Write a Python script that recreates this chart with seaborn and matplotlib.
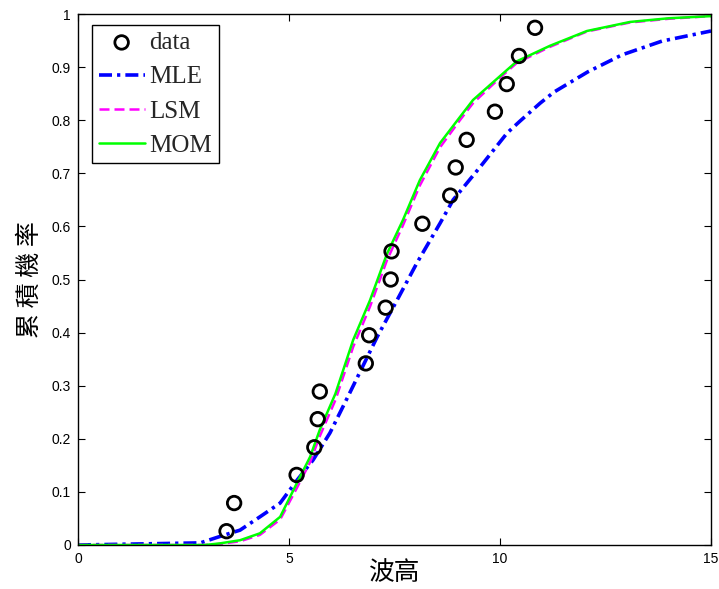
import matplotlib
matplotlib.use("Agg")
import matplotlib.pyplot as plt
import seaborn as sns
import pandas as pd

# Observed wave heights and their cumulative probabilities
wave_height = [3.52, 3.70, 5.18, 5.60, 5.68, 5.73, 6.82, 6.90, 7.29, 7.41,
               7.43, 8.16, 8.82, 8.95, 9.21, 9.88, 10.16, 10.45, 10.83]
cum_prob = [0.026, 0.079, 0.132, 0.184, 0.237, 0.289, 0.342, 0.395, 0.447, 0.500,
            0.553, 0.605, 0.658, 0.711, 0.763, 0.816, 0.868, 0.921, 0.974]

# Fitted distribution curves: maximum likelihood
mle_x = [0, 2.9, 3.36, 3.84, 4.31, 4.79, 5.19, 5.57, 5.97, 6.40, 7.09, 7.56,
         8.03, 8.58, 8.89, 9.53, 10.17, 10.47, 10.95, 11.28, 12.08, 12.89, 13.84, 15.0]
mle_y = [0, 0.004, 0.016, 0.028, 0.053, 0.079, 0.122, 0.160, 0.211, 0.280, 0.392, 0.461,
         0.531, 0.606, 0.650, 0.712, 0.776, 0.798, 0.832, 0.853, 0.891, 0.923, 0.949, 0.968]

# Least squares
lsm_x = [0, 3.0, 3.36, 3.84, 4.31, 4.79, 5.19, 5.50, 5.73, 6.10, 6.52, 6.92, 7.32,
         7.70, 8.10, 8.58, 9.05, 9.36, 10.0, 10.4, 11.18, 12.06, 13.08, 14.0, 15.0]
lsm_y = [0, 0, 0.002, 0.007, 0.019, 0.048, 0.108, 0.156, 0.205, 0.273, 0.373, 0.449, 0.536,
         0.602, 0.677, 0.749, 0.800, 0.832, 0.880, 0.908, 0.938, 0.967, 0.984, 0.991, 0.996]

# Method of moments
mom_x = [0, 3.0, 3.36, 3.84, 4.31, 4.79, 5.19, 5.50, 5.73, 6.10, 6.52, 6.92, 7.32,
         7.70, 8.10, 8.58, 9.05, 9.36, 10.0, 10.4, 11.18, 12.06, 13.08, 14.0, 15.0]
mom_y = [0, 0, 0.003, 0.009, 0.022, 0.053, 0.117, 0.166, 0.217, 0.285, 0.386, 0.461, 0.548,
         0.612, 0.687, 0.757, 0.806, 0.838, 0.883, 0.911, 0.940, 0.968, 0.985, 0.992, 0.996]

x_ticks = [0, 5, 10, 15]
y_ticks = [0, 0.1, 0.2, 0.3, 0.4, 0.5, 0.6, 0.7, 0.8, 0.9, 1]
y_tick_labels = ["0", "0.1", "0.2", "0.3", "0.4", "0.5", "0.6", "0.7", "0.8", "0.9", "1"]

sns.set_theme(style="white")
plt.rcParams["font.family"] = ["Liberation Sans", "DejaVu Sans"]
plt.rcParams["xtick.direction"] = "in"
plt.rcParams["ytick.direction"] = "in"

fig = plt.figure(figsize=(7.19, 5.89), dpi=100)
ax = fig.add_axes([78 / 719, 1 - 545 / 589, 633 / 719, 531 / 589])

obs = pd.DataFrame({"x": wave_height, "y": cum_prob})
sns.scatterplot(data=obs, x="x", y="y", ax=ax, marker="o", s=95,
                facecolor="none", edgecolor="black", linewidth=2.0,
                label="data", zorder=4)

sns.lineplot(x=mle_x, y=mle_y, ax=ax, color="#0000ff", linewidth=2.6,
             linestyle=(0, (3.6, 1.4, 0.9, 1.4)), label="MLE",
             estimator=None, sort=False)
sns.lineplot(x=lsm_x, y=lsm_y, ax=ax, color="#ff00ff", linewidth=1.8,
             linestyle=(0, (4.0, 2.0)), label="LSM",
             estimator=None, sort=False)
sns.lineplot(x=mom_x, y=mom_y, ax=ax, color="#00ff00", linewidth=1.8,
             linestyle="-", label="MOM", estimator=None, sort=False)

ax.set_xlim(0, 15)
ax.set_ylim(0, 1)
ax.set_xticks(x_ticks)
ax.set_xticklabels([str(t) for t in x_ticks])
ax.set_yticks(y_ticks)
ax.set_yticklabels(y_tick_labels)
ax.tick_params(axis="both", which="both", direction="in", length=5, width=0.8,
               color="black", labelsize=10, labelcolor="black",
               top=True, right=True, bottom=True, left=True, pad=5)

for side in ax.spines.values():
    side.set_visible(True)
    side.set_color("black")
    side.set_linewidth(1.0)

cjk = ["Noto Sans CJK TC", "DejaVu Sans"]
ax.set_xlabel("波高", fontsize=18.5, family=cjk, color="black")
ax.xaxis.set_label_coords(0.5, -0.029)
ax.set_ylabel("累 積 機 率", fontsize=18, family=cjk, color="black")
ax.yaxis.set_label_coords(-0.055, 0.5)

leg = ax.legend(loc="upper left", bbox_to_anchor=(14 / 633, 1 - 11 / 531),
                borderaxespad=0, frameon=True, fancybox=False, shadow=False,
                prop={"family": ["Liberation Serif"], "size": 18},
                handlelength=1.85, handletextpad=0.18, labelspacing=0.47,
                borderpad=0.26, framealpha=1)
leg.get_frame().set_edgecolor("black")
leg.get_frame().set_linewidth(1.0)

fig.savefig("out.png", dpi=100, facecolor="white")
